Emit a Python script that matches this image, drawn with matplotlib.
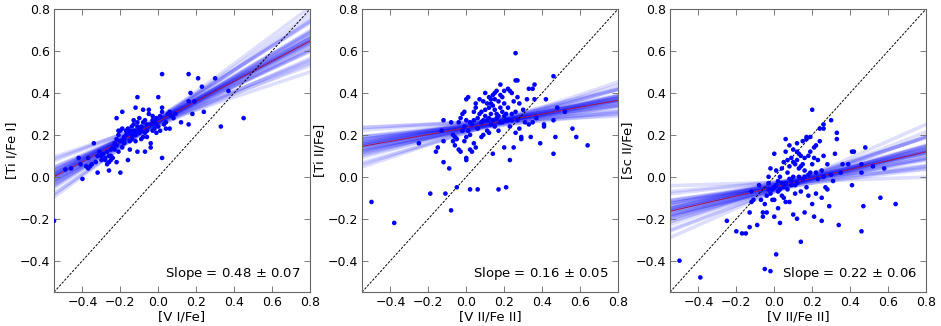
import numpy as np
import matplotlib
matplotlib.use("Agg")
import matplotlib.pyplot as plt

# ---- data ----
p1_x = [-0.55, -0.49, -0.46, -0.40, -0.42, -0.41, -0.38, -0.37, -0.37, -0.36, -0.35, -0.34, -0.33, -0.32,
        -0.32, -0.31, -0.30, -0.29, -0.28, -0.27, -0.27, -0.26, -0.26, -0.25, -0.25, -0.25, -0.24, -0.24,
        -0.23, -0.22, -0.22, -0.22, -0.22, -0.21, -0.21, -0.21, -0.20, -0.20, -0.19, -0.19, -0.19, -0.18,
        -0.18, -0.17, -0.16, -0.16, -0.16, -0.15, -0.15, -0.14, -0.14, -0.13, -0.13, -0.12, -0.12, -0.12,
        -0.11, -0.11, -0.11, -0.10, -0.10, -0.10, -0.09, -0.09, -0.08, -0.08, -0.07, -0.07, -0.06, -0.06,
        -0.05, -0.05, -0.04, -0.04, -0.04, -0.03, -0.03, -0.02, -0.01, -0.01, 0.00, 0.00, 0.01, 0.01,
        0.02, 0.02, 0.02, 0.02, 0.03, 0.04, 0.05, 0.06, 0.06, 0.07, 0.08, 0.09, 0.12, 0.16, 0.16, 0.16,
        0.17, 0.18, 0.19, 0.21, 0.23, 0.24, 0.30, 0.33, 0.37, 0.45,
        -0.13, -0.11, -0.08, -0.07, -0.02, -0.06, -0.09, -0.14, -0.17, -0.03, 0.04, -0.01, -0.12, -0.15,
        -0.18, -0.20, -0.23, -0.26, -0.28, -0.30]
p1_y = [-0.21, 0.035, 0.04, -0.01, 0.09, 0.06, 0.05, 0.04, 0.09, 0.05, 0.06, 0.16, 0.07, 0.02,
        0.10, 0.12, 0.10, 0.11, 0.08, 0.12, 0.06, 0.07, 0.03, 0.08, 0.13, 0.10, 0.09, 0.14,
        0.16, 0.07, 0.28, 0.15, 0.18, 0.22, 0.12, 0.20, 0.22, 0.02, 0.31, 0.14, 0.23, 0.18,
        0.19, 0.22, 0.21, 0.23, 0.08, 0.22, 0.13, 0.18, 0.20, 0.27, 0.25, 0.33, 0.20, 0.17,
        0.38, 0.26, 0.12, 0.28, 0.23, 0.21, 0.24, 0.18, 0.19, 0.32, 0.27, 0.12, 0.22, 0.19,
        0.32, 0.30, 0.25, 0.14, 0.16, 0.22, 0.27, 0.23, 0.28, 0.21, 0.38, 0.24, 0.29, 0.22,
        0.49, 0.33, 0.31, 0.09, 0.25, 0.26, 0.30, 0.31, 0.23, 0.29, 0.28, 0.30, 0.26, 0.49, 0.36, 0.25,
        0.40, 0.30, 0.36, 0.47, 0.43, 0.31, 0.47, 0.24, 0.41, 0.28,
        0.22, 0.24, 0.26, 0.21, 0.26, 0.25, 0.22, 0.24, 0.20, 0.29, 0.23, 0.25, 0.22, 0.17,
        0.16, 0.17, 0.13, 0.10, 0.09, 0.08]

p2_x = [-0.50, -0.38, -0.25, -0.19, -0.16, -0.15, -0.13, -0.12, -0.12, -0.12, -0.11, -0.09, -0.08, -0.08,
        -0.07, -0.07, -0.06, -0.06, -0.05, -0.05, -0.04, -0.04, -0.03, -0.03, -0.02, -0.02, -0.01, -0.01,
        0.00, 0.00, 0.00, 0.00, 0.00, 0.01, 0.01, 0.02, 0.02, 0.02, 0.03, 0.03, 0.04, 0.04, 0.05, 0.05,
        0.05, 0.06, 0.06, 0.06, 0.07, 0.07, 0.08, 0.08, 0.09, 0.09, 0.10, 0.10, 0.10, 0.11, 0.11, 0.12,
        0.12, 0.12, 0.13, 0.13, 0.13, 0.14, 0.14, 0.14, 0.15, 0.15, 0.15, 0.16, 0.16, 0.16, 0.17, 0.17,
        0.17, 0.18, 0.18, 0.18, 0.19, 0.19, 0.20, 0.20, 0.20, 0.21, 0.21, 0.22, 0.22, 0.23, 0.23, 0.23,
        0.24, 0.24, 0.25, 0.25, 0.26, 0.26, 0.26, 0.27, 0.27, 0.27, 0.28, 0.28, 0.29, 0.29, 0.30, 0.31,
        0.32, 0.33, 0.33, 0.34, 0.35, 0.35, 0.36, 0.36, 0.37, 0.39, 0.41, 0.41, 0.42, 0.46, 0.46, 0.46,
        0.47, 0.48, 0.52, 0.56, 0.58, 0.64,
        0.09, 0.12, 0.14, 0.17, 0.19, 0.21, 0.08, 0.11, 0.15, 0.18, 0.13, 0.20, 0.24, 0.26, 0.22, 0.04,
        0.02, -0.01]
p2_y = [-0.12, -0.22, 0.16, -0.08, 0.12, 0.14, 0.22, 0.27, 0.17, 0.07, -0.08, 0.04, -0.16, 0.26,
        0.20, 0.17, 0.15, 0.19, -0.05, 0.18, 0.13, 0.26, 0.28, 0.12, 0.22, 0.30, 0.31, 0.24,
        0.09, 0.08, 0.37, 0.27, 0.19, 0.38, 0.22, -0.06, 0.20, 0.13, 0.12, 0.25, 0.27, 0.16, 0.35, 0.14,
        0.33, -0.06, 0.28, 0.23, 0.37, 0.30, 0.19, 0.26, 0.20, 0.36, 0.32, 0.40, 0.29, 0.22, 0.27, 0.38,
        0.33, 0.21, 0.35, 0.30, 0.25, 0.39, 0.11, 0.34, 0.32, 0.24, 0.37, 0.41, 0.28, 0.30, -0.06, 0.36,
        0.22, 0.44, 0.33, 0.26, 0.31, 0.38, 0.14, 0.29, 0.35, -0.05, 0.27, 0.42, 0.33, 0.08, 0.41, 0.24,
        0.30, 0.40, 0.14, 0.36, 0.59, 0.46, 0.21, 0.46, 0.38, 0.27, 0.23, 0.35, 0.18, 0.19, 0.32, 0.26,
        0.37, 0.42, 0.25, 0.19, 0.42, 0.26, 0.44, 0.37, 0.28, 0.16, 0.25, 0.24, 0.37, 0.48, 0.27, 0.11,
        0.19, 0.33, 0.31, 0.23, 0.19, 0.15,
        0.27, 0.28, 0.27, 0.29, 0.26, 0.30, 0.31, 0.35, 0.40, 0.39, 0.37, 0.41, 0.27, 0.31, 0.27, 0.31,
        0.26, 0.17]

p3_x = [-0.50, -0.39, -0.25, -0.20, -0.17, -0.15, -0.13, -0.13, -0.12, -0.12, -0.11, -0.09, -0.08, -0.07,
        -0.06, -0.06, -0.05, -0.05, -0.04, -0.04, -0.03, -0.03, -0.02, -0.02, -0.02, -0.01, -0.01, 0.00,
        0.00, 0.00, 0.01, 0.01, 0.01, 0.02, 0.02, 0.03, 0.03, 0.04, 0.04, 0.05, 0.05, 0.05, 0.06, 0.06,
        0.06, 0.07, 0.07, 0.08, 0.08, 0.08, 0.09, 0.09, 0.10, 0.10, 0.10, 0.11, 0.11, 0.12, 0.12, 0.12,
        0.12, 0.13, 0.13, 0.14, 0.14, 0.14, 0.15, 0.15, 0.15, 0.16, 0.16, 0.16, 0.17, 0.17, 0.17, 0.18,
        0.18, 0.19, 0.19, 0.20, 0.20, 0.20, 0.21, 0.21, 0.22, 0.22, 0.23, 0.23, 0.24, 0.24, 0.25, 0.25,
        0.25, 0.26, 0.26, 0.26, 0.27, 0.28, 0.28, 0.29, 0.30, 0.30, 0.32, 0.33, 0.33, 0.34, 0.35, 0.36,
        0.39, 0.41, 0.42, 0.41, 0.46, 0.46, 0.46, 0.47, 0.48, 0.52, 0.56, 0.58, 0.64,
        0.00, 0.02, 0.06, 0.09, 0.11, 0.13, 0.16, 0.18, 0.03, -0.03, 0.07, 0.10, 0.14, 0.19, 0.21, 0.08,
        0.04, 0.22, 0.26, 0.31, 0.12]
p3_y = [-0.40, -0.48, -0.21, -0.26, -0.27, -0.27, -0.24, -0.17, -0.12, -0.07, -0.11, -0.23, -0.04, -0.11,
        -0.19, -0.17, -0.13, -0.44, -0.17, -0.09, -0.03, 0.00, -0.45, -0.08, 0.04, -0.11, -0.06, 0.11,
        -0.11, -0.19, -0.37, 0.03, -0.04, -0.15, -0.07, -0.22, 0.00, -0.03, -0.09, 0.07, -0.10, -0.05,
        0.18, 0.12, -0.12, 0.02, -0.06, 0.05, -0.12, -0.01, 0.09, -0.04, 0.13, -0.18, 0.00, 0.06, -0.08,
        0.16, 0.08, -0.20, -0.03, 0.04, 0.11, -0.31, 0.10, -0.07, 0.17, 0.06, -0.01, -0.17, 0.09, 0.03,
        0.18, 0.19, -0.05, 0.10, -0.09, 0.19, 0.02, 0.32, -0.13, 0.06, -0.19, 0.14, 0.15, -0.08, 0.08,
        -0.01, 0.17, 0.23, -0.21, -0.10, 0.03, 0.25, 0.23, 0.10, -0.05, 0.06, -0.06, -0.14, 0.27, 0.01,
        0.11, 0.21, 0.18, -0.23, 0.02, 0.06, 0.06, 0.12, 0.12, -0.04, 0.06, 0.02, -0.26, -0.14, 0.14,
        0.05, -0.10, 0.04, -0.13,
        -0.05, -0.02, -0.03, -0.02, -0.04, 0.00, 0.00, 0.01, -0.06, -0.06, 0.08, 0.07, 0.05, 0.12, 0.09,
        0.15, 0.04, 0.02, 0.00, -0.02, 0.12]

xlabels = ["[V I/Fe]", "[V II/Fe II]", "[V II/Fe II]"]
ylabels = ["[Ti I/Fe I]", "[Ti II/Fe]", "[Sc II/Fe]"]
slope_text = ["Slope = 0.48 $\\pm$ 0.07", "Slope = 0.16 $\\pm$ 0.05", "Slope = 0.22 $\\pm$ 0.06"]

# best fit: pivot point and slope
pivots = [(-0.05, 0.24), (0.15, 0.259), (0.10, -0.028)]
best_slopes = [0.48, 0.163, 0.21]
# posterior draws (slope, intercept offset at pivot)
draw_slopes = [
    [0.48, 0.41, 0.55, 0.45, 0.52, 0.38, 0.58, 0.47, 0.50, 0.43, 0.54, 0.35, 0.62, 0.46, 0.49,
     0.40, 0.56, 0.44, 0.51, 0.33, 0.64, 0.47, 0.49, 0.42, 0.53, 0.45, 0.50, 0.48, 0.37, 0.59,
     0.30, 0.67, 0.47, 0.49],
    [0.16, 0.11, 0.21, 0.14, 0.18, 0.09, 0.23, 0.15, 0.17, 0.12, 0.20, 0.07, 0.26, 0.15, 0.17,
     0.10, 0.22, 0.13, 0.19, 0.05, 0.28, 0.16, 0.16, 0.12, 0.20, 0.14, 0.18, 0.16, 0.08, 0.24,
     0.04, 0.30, 0.15, 0.17],
    [0.21, 0.15, 0.27, 0.18, 0.24, 0.12, 0.30, 0.20, 0.22, 0.16, 0.26, 0.10, 0.33, 0.19, 0.22,
     0.13, 0.28, 0.17, 0.24, 0.08, 0.35, 0.20, 0.22, 0.15, 0.25, 0.18, 0.23, 0.21, 0.11, 0.31,
     0.03, 0.40, 0.20, 0.22],
]
draw_offsets = [0.0, 0.010, -0.010, 0.015, -0.012, -0.005, 0.008, -0.020, 0.020, 0.004,
                -0.006, 0.012, -0.010, 0.0, 0.006, -0.015, 0.018, -0.008, 0.003, 0.010,
                -0.004, 0.009, -0.011, 0.002, -0.003, 0.007, -0.007, 0.013, -0.013, 0.001,
                0.005, -0.002, 0.0, 0.004]

points = [(p1_x, p1_y), (p2_x, p2_y), (p3_x, p3_y)]

fig = plt.figure(figsize=(9.41, 3.26), dpi=100)
lefts = [0.0574, 0.3847, 0.712]
xx = np.array([-0.55, 0.8])

for i in range(3):
    ax = fig.add_axes([lefts[i], 0.104, 0.272, 0.868])
    x0, y0 = pivots[i]
    for s, d in zip(draw_slopes[i], draw_offsets):
        ax.plot(xx, y0 + d + s * (xx - x0), color='blue', alpha=0.13, lw=2.6, zorder=1)
    ax.plot(xx, y0 + best_slopes[i] * (xx - x0), color='#9b1b5a', lw=0.8, zorder=2)
    ax.plot(xx, xx, 'k--', lw=0.7, dashes=(2.5, 1.5), zorder=2)
    ax.scatter(points[i][0], points[i][1], s=11, color='blue', edgecolors='none', zorder=3)
    ax.text(0.965, 0.035, slope_text[i], transform=ax.transAxes, ha='right', va='bottom', fontsize=9.5)

    ax.set_xlim(-0.55, 0.8)
    ax.set_ylim(-0.55, 0.8)
    ax.set_xticks([-0.4, -0.2, 0.0, 0.2, 0.4, 0.6, 0.8])
    ax.set_yticks([-0.4, -0.2, 0.0, 0.2, 0.4, 0.6, 0.8])
    ax.set_xticklabels(["\u22120.4", "\u22120.2", "0.0", "0.2", "0.4", "0.6", "0.8"])
    ax.set_yticklabels(["\u22120.4", "\u22120.2", "0.0", "0.2", "0.4", "0.6", "0.8"])
    ax.tick_params(direction='in', top=True, right=True, length=4, width=0.6,
                   color='0.4', labelsize=9, pad=3)
    for sp in ax.spines.values():
        sp.set_color('0.4')
        sp.set_linewidth(0.8)
    ax.set_xlabel(xlabels[i], fontsize=9.5, labelpad=1)
    ax.set_ylabel(ylabels[i], fontsize=9.5, labelpad=1)

fig.savefig("out.png", dpi=100)
